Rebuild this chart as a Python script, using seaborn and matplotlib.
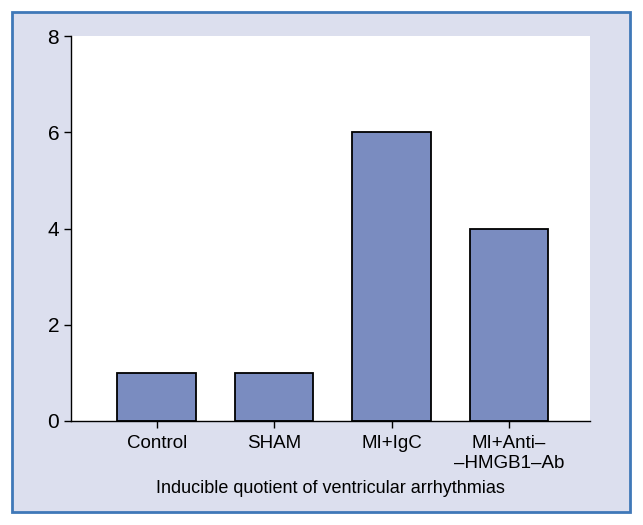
import matplotlib
matplotlib.use("Agg")
import matplotlib.pyplot as plt
import matplotlib.patches as patches
import pandas as pd
import seaborn as sns

# Dados
grupos = ["Control", "SHAM", "MI+IgC", "MI+Anti–\n–HMGB1–Ab"]
valores = [1, 1, 6, 4]
yticks = [0, 2, 4, 6, 8]

df = pd.DataFrame({"grupo": grupos, "valor": valores})

sns.set_style("ticks")
plt.rcParams['font.family'] = ['Liberation Sans', 'DejaVu Sans']
plt.rcParams['text.color'] = 'black'
plt.rcParams['xtick.color'] = 'black'
plt.rcParams['ytick.color'] = 'black'
plt.rcParams['axes.labelcolor'] = 'black'

fig = plt.figure(figsize=(6.43, 5.25), dpi=100)
fig.patch.set_facecolor("white")

# Moldura azul com fundo lilás (atrás dos eixos)
moldura = patches.Rectangle((12 / 643, 13 / 525), 618 / 643, 500 / 525,
                            transform=fig.transFigure, facecolor="#dcdfee",
                            edgecolor="#3f78b8", linewidth=2, zorder=-10)
fig.patches.append(moldura)

ax = fig.add_axes([71 / 643, 104 / 525, 519 / 643, 385 / 525])
ax.set_zorder(5)
ax.set_facecolor("white")

sns.barplot(data=df, x="grupo", y="valor", color="#7a8cc0", width=0.67,
            edgecolor="black", linewidth=1.3, saturation=1, ax=ax)

ax.set_xlim(-0.73, 3.69)
ax.set_ylim(0, 8)
ax.set_yticks(yticks)
ax.set_xlabel("Inducible quotient of ventricular arrhythmias", fontsize=13, labelpad=6)
ax.set_ylabel("")
ax.tick_params(axis="both", length=5, width=1, color="black")
ax.tick_params(axis="y", labelsize=15)
ax.tick_params(axis="x", labelsize=13.5, pad=5)
for lbl in ax.get_xticklabels():
    lbl.set_linespacing(1.25)
for s in ["top", "right"]:
    ax.spines[s].set_visible(False)
for s in ["left", "bottom"]:
    ax.spines[s].set_color("black")
    ax.spines[s].set_linewidth(1)

fig.savefig("out.png", dpi=100, facecolor=fig.get_facecolor())
